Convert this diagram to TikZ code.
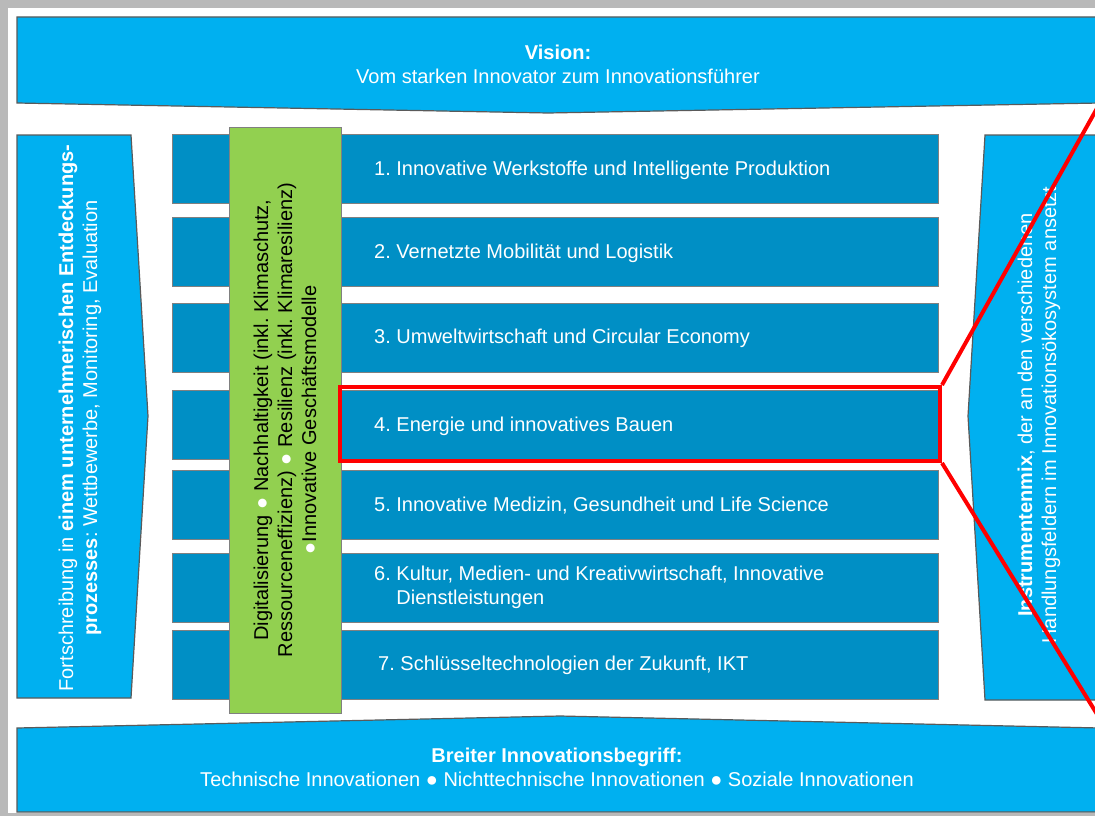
\documentclass[tikz,border=0pt]{standalone}
\usepackage{fontspec}
\setmainfont{Liberation Sans}
\frenchspacing
\usetikzlibrary{positioning, calc}
\definecolor{Banner}{RGB}{0, 176, 240}
\definecolor{Field}{RGB}{0, 143, 197}
\definecolor{Cross}{RGB}{146, 208, 80}
\definecolor{Edge}{RGB}{90, 90, 90}
\definecolor{Focus}{RGB}{255, 0, 0}

\begin{document}
\begin{tikzpicture}[
        x=1pt, y=-1pt,
        banner/.style={fill=Banner, draw=Edge, line width=1.2pt},
        field/.style={rectangle, fill=Field, draw=gray, line width=0.8pt, minimum width=766pt, minimum height=69pt, inner sep=0pt},
        fieldtext/.style={anchor=west, inner sep=0pt, text=white, align=left, font=\fontsize{20}{24}\selectfont},
        whitetext/.style={text=white, align=center, inner sep=0pt, font=\fontsize{20}{24}\selectfont},
        crossbox/.style={rectangle, fill=Cross, draw=gray, line width=1pt, align=center, font=\fontsize{20}{24}\selectfont},
        focusbox/.style={rectangle, draw=Focus, line width=4pt, minimum width=600pt, minimum height=74pt},
        zoomline/.style={draw=Focus, line width=4pt}
    ]
        \useasboundingbox (0,0) rectangle (1095,816);
        \clip (0,0) rectangle (1095,816);

        % Frame
        \fill[gray!55] (0,0) rectangle (1095,816);
        \fill[white] (8,8) rectangle (1100,813);

        % Vision
        \draw[banner] (17,17) -- (1100,17) -- (1100,103) -- (548,113) -- (17,103) -- cycle;
        \node[whitetext] (vision) at (558,64) {\textbf{Vision:}\\Vom starken Innovator zum Innovationsführer};

        % Innovation concept
        \draw[banner] (17,728) -- (560,716) -- (1100,728) -- (1100,812) -- (17,812) -- cycle;
        \node[whitetext] (concept) at (557,767) {\textbf{Breiter Innovationsbegriff:}\\Technische Innovationen ● Nichttechnische Innovationen ● Soziale Innovationen};

        % Discovery process
        \draw[banner] (17,135) -- (131,135) -- (148,416) -- (131,698) -- (17,698) -- cycle;
        \node[whitetext, rotate=90] (process) at (80,418) {Fortschreibung in \textbf{einem unternehmerischen Entdeckungs-}\\\textbf{prozesses}: Wettbewerbe, Monitoring, Evaluation};

        % Instrument mix
        \draw[banner] (985,135) -- (1100,135) -- (1100,700) -- (985,700) -- (968,416) -- cycle;
        \node[whitetext, rotate=90] (instruments) at (1039,415) {\textbf{Instrumentenmix}, der an den verschiedenen\\Handlungsfeldern im Innovationsökosystem ansetzt};

        % Fields of action
        \node[field] (field1) at (555,169) {};
        \node[field] (field2) at (555,252) {};
        \node[field] (field3) at (555,337.5) {};
        \node[field] (field4) at (555,425) {};
        \node[field] (field5) at (555,505) {};
        \node[field] (field6) at (555,587.5) {};
        \node[field] (field7) at (555,664.5) {};

        \node[fieldtext] (label1) at (374,170) {1. Innovative Werkstoffe und Intelligente Produktion};
        \node[fieldtext] (label2) at (374,253) {2. Vernetzte Mobilität und Logistik};
        \node[fieldtext] (label3) at (374,338.5) {3. Umweltwirtschaft und Circular Economy};
        \node[fieldtext] (label4) at (374,426) {4. Energie und innovatives Bauen};
        \node[fieldtext] (label5) at (374,506) {5. Innovative Medizin, Gesundheit und Life Science};
        \node[fieldtext] (label6) at (374,587) {6. Kultur, Medien- und Kreativwirtschaft, Innovative\\\phantom{6. }Dienstleistungen};
        \node[fieldtext] (label7) at (378,665.5) {7. Schlüsseltechnologien der Zukunft, IKT};

        % Cross-cutting topics
        \node[crossbox, rotate=90, minimum width=586pt, minimum height=112pt] (cross) at (285,420) {Digitalisierung {\color{white}●} Nachhaltigkeit (inkl. Klimaschutz,\\Ressourceneffizienz) {\color{white}●} Resilienz (inkl. Klimaresilienz)\\{\color{white}●}Innovative Geschäftsmodelle};

        % Focus on field 4
        \node[focusbox] (focus) at (640,424) {};
        \coordinate (zoomtop) at (1100,103);
        \coordinate (zoombottom) at (1100,719);
        \draw[zoomline] (focus.north east) -- (zoomtop);
        \draw[zoomline] (focus.south east) -- (zoombottom);
    \end{tikzpicture}
\end{document}
